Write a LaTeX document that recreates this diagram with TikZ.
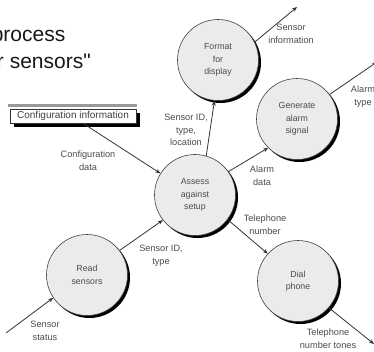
\documentclass[tikz,border=0pt]{standalone}
\usepackage{fontspec}
\setmainfont{Liberation Sans}
\newfontfamily\headfont[Ligatures=TeXOff]{Liberation Sans}
\usetikzlibrary{arrows.meta,shadows}

\tikzset{
  bubble/.style={circle, minimum size=81pt, inner sep=0pt, align=center,
    fill=black!8, draw=black!75, line width=0.6pt,
    font=\fontsize{8.8}{12.5}\selectfont, text=black!70,
    drop shadow={shadow xshift=2.5pt, shadow yshift=-2.5pt, fill=black, opacity=1}},
  entity/.style={rectangle, minimum width=126pt, minimum height=14pt, inner sep=0pt,
    fill=white, draw=black!80, line width=0.6pt,
    font=\fontsize{10}{11}\selectfont, text=black!75,
    drop shadow={shadow xshift=4pt, shadow yshift=-4pt, fill=black, opacity=1}},
  flowlabel/.style={align=center, inner sep=0pt,
    font=\fontsize{9.2}{12.8}\selectfont, text=black!70},
  flow/.style={draw=black!80, line width=0.8pt,
    -{Stealth[length=5pt,width=4pt]}},
  titletext/.style={inner sep=0pt, font=\headfont\fontsize{21}{25}\selectfont, text=black!90}
}

\begin{document}
\begin{tikzpicture}[x=1pt,y=-1pt]
  \useasboundingbox (0,0) rectangle (374,351);
  \clip (0,0) rectangle (374,351);
  \fill[white] (0,0) rectangle (374,351);

  % heading
  \node[titletext, anchor=base east] (t1) at (65.5,41.5) {process};
  \node[titletext, anchor=base east] (t2) at (91,68) {for sensors"};

  % external entity
  \node[entity] (cfg) at (73,116) {Configuration information};
  \draw[black!40, line width=3pt] ([xshift=-2pt,yshift=3.5pt]cfg.north west)
    -- ([xshift=1pt,yshift=3.5pt]cfg.north east);

  % processes
  \node[bubble] (fmt)    at (218,60)  {Format\\for\\display};
  \node[bubble] (gen)    at (297,119) {Generate\\alarm\\signal};
  \node[bubble] (assess) at (195,195) {Assess\\against\\setup};
  \node[bubble] (read)   at (87,275)  {Read\\sensors};
  \node[bubble] (dial)   at (298,281) {Dial\\phone};

  % free ends of the flows
  \coordinate (sinfo)  at (297,7);
  \coordinate (atype)  at (377,62);
  \coordinate (ttones) at (374,344);
  \coordinate (sstat)  at (6,333);

  % data flows
  \draw[flow] ([xshift=10pt]cfg.south) -- (assess.148);
  \draw[flow] (assess.74) -- (fmt.265);
  \draw[flow] (assess.35) -- (gen.225);
  \draw[flow] (assess.-37) -- (dial.138);
  \draw[flow] (read.37) -- (assess.218);
  \draw[flow] (sstat) -- (read.214);
  \draw[flow] (fmt.26) -- (sinfo);
  \draw[flow] (gen.37) -- (atype);
  \draw[flow] (dial.-41) -- (ttones);

  % flow labels
  \node[flowlabel] (l1) at (88,161)  {Configuration\\data};
  \node[flowlabel] (l2) at (186,130) {Sensor ID,\\type,\\location};
  \node[flowlabel] (l3) at (262,176) {Alarm\\data};
  \node[flowlabel] (l4) at (265,225) {Telephone\\number};
  \node[flowlabel] (l5) at (161,256) {Sensor ID,\\type};
  \node[flowlabel] (l6) at (45,331)  {Sensor\\status};
  \node[flowlabel] (l7) at (291,34)  {Sensor\\information};
  \node[flowlabel] (l8) at (363,97)  {Alarm\\type};
  \node[flowlabel] (l9) at (328,339) {Telephone\\number tones};
\end{tikzpicture}
\end{document}
